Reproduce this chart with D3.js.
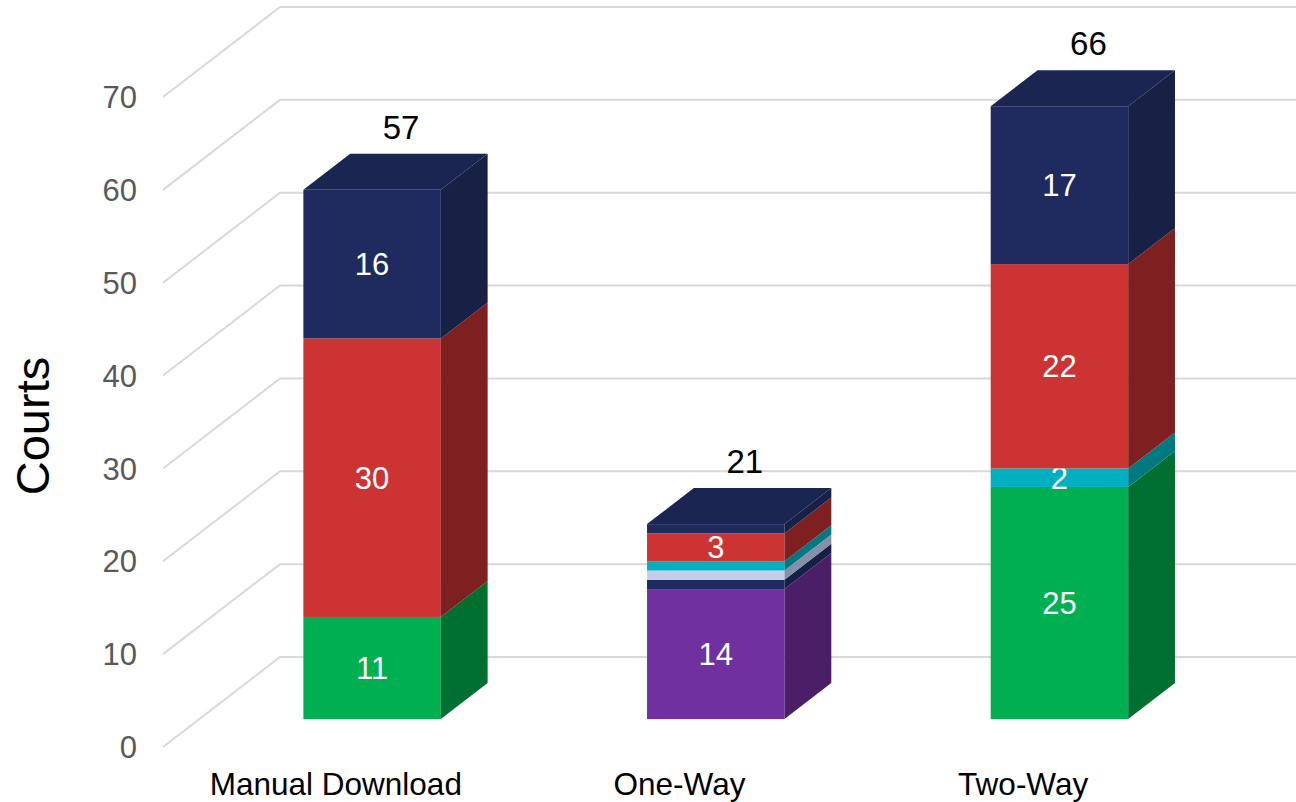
<!DOCTYPE html>
<html>
<head>
<meta charset="utf-8">
<script src="https://cdn.jsdelivr.net/npm/d3@7"></script>
<style>
  body { margin: 0; background: #fff; }
  text { font-family: "Liberation Sans", Arial, sans-serif; }
</style>
</head>
<body>
<script>
const categories = ["Manual Download", "One-Way", "Two-Way"];
const yTicks = [0, 10, 20, 30, 40, 50, 60, 70];

// series, bottom to top of each stack
const seriesKeys = ["green", "purple", "navyLow", "lavender", "teal", "red", "navy"];
const green    = [11, 0, 25];
const purple   = [0, 14, 0];
const navyLow  = [0, 1, 0];
const lavender = [0, 1, 0];
const teal     = [0, 1, 2];
const red      = [30, 3, 22];
const navy     = [16, 1, 17];

const faceColor = {
  green: "#00b050", purple: "#7030a0", navyLow: "#1f2a5f", lavender: "#c5cde9",
  teal: "#00b0c0", red: "#cc3333", navy: "#1f2a5f"
};
const sideColor = {
  green: "#007030", purple: "#4a1f68", navyLow: "#161f45", lavender: "#878fa8",
  teal: "#007a80", red: "#7e1f20", navy: "#172045"
};
const topColor = {
  green: "#009040", purple: "#5a2580", navyLow: "#1a2452", lavender: "#a0a8c4",
  teal: "#009aa5", red: "#a62828", navy: "#1b2551"
};

const width = 1296, height = 802;
const wallDx = 117, wallDy = 90;      // oblique depth of the side wall
const barZ = 0.31, barDepth = 0.40;   // bar front position and depth (fractions of wall)

const rows = categories.map((c, i) => ({
  category: c,
  green: green[i], purple: purple[i], navyLow: navyLow[i], lavender: lavender[i],
  teal: teal[i], red: red[i], navy: navy[i]
}));
const stacked = d3.stack().keys(seriesKeys)(rows);
const totals = rows.map(r => d3.sum(seriesKeys, k => r[k]));

const svg = d3.select("body").append("svg")
  .attr("width", width)
  .attr("height", height);

const x = d3.scaleBand()
  .domain(categories)
  .range([164, 1195])
  .paddingInner(0.6)
  .paddingOuter(0.3);

const y = d3.scaleLinear()
  .domain([0, 70])
  .range([747, 97]);

// gridlines: side wall diagonal + back wall
const plotLeft = 163;
svg.append("g")
  .selectAll("path")
  .data(yTicks)
  .enter().append("path")
    .attr("d", d => `M${plotLeft},${y(d)}L${plotLeft + wallDx},${y(d) - wallDy}L${width},${y(d) - wallDy}`)
    .attr("fill", "none")
    .attr("stroke", "#d9d9d9")
    .attr("stroke-width", 2);

// y tick labels
svg.append("g")
  .selectAll("text")
  .data(yTicks)
  .enter().append("text")
    .attr("x", 137)
    .attr("y", d => y(d))
    .attr("dy", "0.36em")
    .attr("text-anchor", "end")
    .attr("fill", "#595959")
    .attr("font-size", 31)
    .text(d => d);

svg.append("text")
  .attr("transform", "translate(49,426) rotate(-90)")
  .attr("text-anchor", "middle")
  .attr("font-size", 47)
  .attr("fill", "#000")
  .text("Courts");

// category labels
svg.append("g")
  .selectAll("text")
  .data(categories)
  .enter().append("text")
    .attr("x", d => x(d) + x.bandwidth() / 2)
    .attr("y", 795)
    .attr("text-anchor", "middle")
    .attr("font-size", 31.5)
    .attr("fill", "#000")
    .text(d => d);

const fx = barZ * wallDx, fy = barZ * wallDy;     // front face offset
const dx = barDepth * wallDx, dy = barDepth * wallDy; // depth of bar

const bars = svg.append("g");
stacked.forEach(layer => {
  const key = layer.key;
  layer.forEach((seg, i) => {
    if (seg[1] - seg[0] <= 0) return;
    const x0 = x(categories[i]) + fx, x1 = x0 + x.bandwidth();
    const yb = y(seg[0]) - fy, yt = y(seg[1]) - fy;
    bars.append("rect")
      .attr("x", x0).attr("y", yt)
      .attr("width", x1 - x0).attr("height", yb - yt)
      .attr("fill", faceColor[key]);
    bars.append("path")
      .attr("d", `M${x1},${yb}L${x1},${yt}L${x1 + dx},${yt - dy}L${x1 + dx},${yb - dy}Z`)
      .attr("fill", sideColor[key]);
    if (seg[1] - seg[0] >= 2) {
      bars.append("text")
        .attr("x", (x0 + x1) / 2)
        .attr("y", (yt + yb) / 2)
        .attr("dy", "0.36em")
        .attr("text-anchor", "middle")
        .attr("fill", "#fff")
        .attr("font-size", 31)
        .text(seg[1] - seg[0]);
    }
  });
});

// top faces and totals
categories.forEach((c, i) => {
  const topKey = seriesKeys.filter(k => rows[i][k] > 0).pop();
  const x0 = x(c) + fx, x1 = x0 + x.bandwidth();
  const yt = y(totals[i]) - fy;
  bars.append("path")
    .attr("d", `M${x0},${yt}L${x1},${yt}L${x1 + dx},${yt - dy}L${x0 + dx},${yt - dy}Z`)
    .attr("fill", topColor[topKey]);
  bars.append("text")
    .attr("x", (x0 + x1) / 2 + 29)
    .attr("y", yt - dy - 15)
    .attr("text-anchor", "middle")
    .attr("font-size", 33)
    .attr("fill", "#000")
    .text(totals[i]);
});
</script>
</body>
</html>
